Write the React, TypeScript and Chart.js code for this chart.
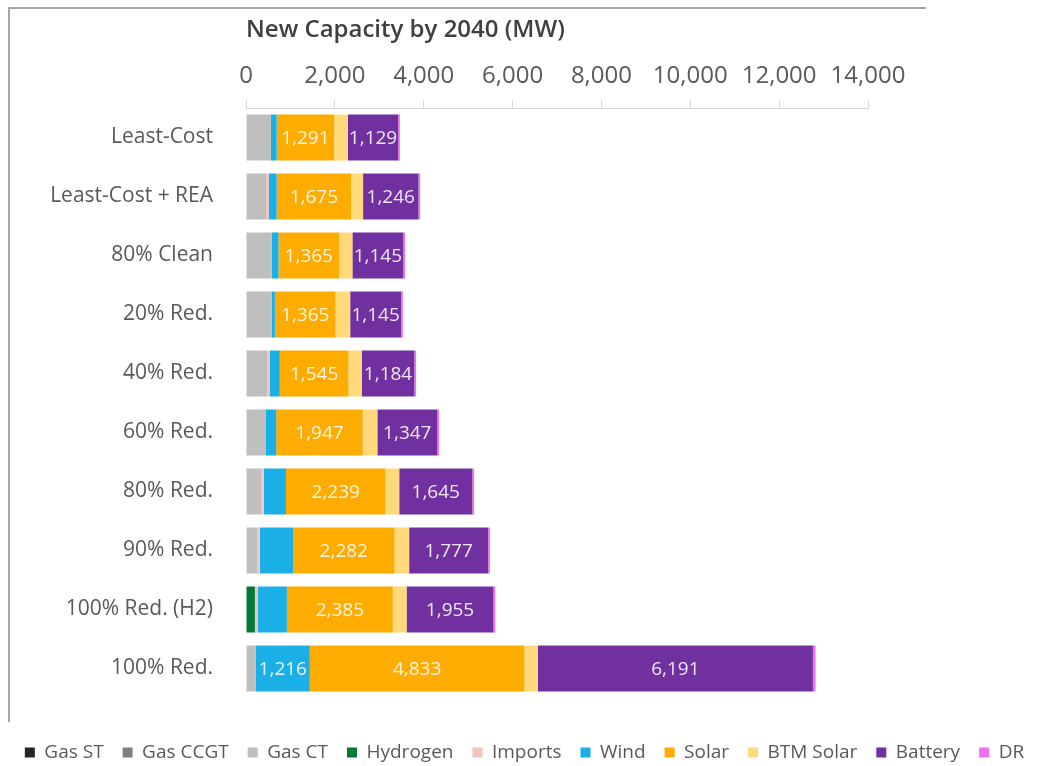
import React, { useEffect, useRef } from "react";
import { Chart, registerables } from "chart.js";

Chart.register(...registerables);

const categories = [
  "Least-Cost",
  "Least-Cost + REA",
  "80% Clean",
  "20% Red.",
  "40% Red.",
  "60% Red.",
  "80% Red.",
  "90% Red.",
  "100% Red. (H2)",
  "100% Red.",
];

const gasST = [0, 0, 0, 0, 0, 0, 0, 0, 0, 0];
const gasCCGT = [0, 0, 0, 0, 0, 0, 0, 0, 0, 0];
const gasCT = [560, 450, 580, 580, 480, 450, 340, 250, 0, 220];
const hydrogen = [0, 0, 0, 0, 0, 0, 0, 0, 200, 0];
const imports = [0, 60, 0, 0, 60, 0, 60, 60, 70, 0];
const wind = [130, 180, 150, 70, 220, 230, 500, 750, 650, 1216];
const solar = [1291, 1675, 1365, 1365, 1545, 1947, 2239, 2282, 2385, 4833];
const btmSolar = [314, 270, 300, 330, 300, 330, 310, 330, 310, 300];
const battery = [1129, 1246, 1145, 1145, 1184, 1347, 1645, 1777, 1955, 6191];
const dr = [40, 40, 40, 40, 40, 40, 40, 40, 40, 60];

const xTicks = [0, 2000, 4000, 6000, 8000, 10000, 12000, 14000];

const FONT = "'Open Sans', 'DejaVu Sans', sans-serif";

const labelPlugin = {
  id: "segLabels",
  afterLayout(chart: any) {
    const l = chart.legend;
    if (l) {
      l.top += 6;
      l.bottom += 6;
    }
  },
  afterDatasetsDraw(chart: any) {
    const ctx = chart.ctx;
    ctx.save();
    ctx.font = `19px ${FONT}`;
    ctx.fillStyle = "rgba(255,255,255,0.88)";
    ctx.textAlign = "center";
    ctx.textBaseline = "middle";
    chart.data.datasets.forEach((ds: any, di: number) => {
      if (!ds.showLabels) return;
      const meta = chart.getDatasetMeta(di);
      meta.data.forEach((bar: any, i: number) => {
        const v = ds.data[i];
        if (!v || v < ds.labelMin) return;
        const cx = (bar.x + bar.base) / 2;
        ctx.fillText(v.toLocaleString("en-US"), cx, bar.y + 1);
      });
    });
    ctx.restore();
  },
};

export default function App() {
  const ref = useRef<HTMLCanvasElement | null>(null);

  useEffect(() => {
    if (!ref.current) return;
    const mk = (label: string, data: number[], color: string, extra: any = {}) => ({
      label,
      data,
      xAxisID: "x",
      yAxisID: "y",
      backgroundColor: color,
      borderWidth: 0,
      barPercentage: 0.78,
      categoryPercentage: 1,
      ...extra,
    });
    const chart = new Chart(ref.current, {
      type: "bar",
      data: {
        labels: categories,
        datasets: [
          mk("Gas ST", gasST, "#262626"),
          mk("Gas CCGT", gasCCGT, "#7F7F7F"),
          mk("Gas CT", gasCT, "#BFBFBF"),
          mk("Hydrogen", hydrogen, "#007A33"),
          mk("Imports", imports, "#F6C3BC"),
          mk("Wind", wind, "#1AAFE6", { showLabels: true, labelMin: 1000 }),
          mk("Solar", solar, "#FFAC00", { showLabels: true, labelMin: 0 }),
          mk("BTM Solar", btmSolar, "#FFD97A"),
          mk("Battery", battery, "#7030A0", { showLabels: true, labelMin: 0 }),
          mk("DR", dr, "#F06EF0"),
        ] as any,
      },
      options: {
        indexAxis: "y",
        animation: false,
        responsive: true,
        maintainAspectRatio: false,
        layout: { padding: 0 },
        scales: {
          y: {
            type: "category",
            stacked: true,
            afterFit: (s: any) => {
              s.width = 246;
            },
            grid: { display: false, drawTicks: false },
            border: { display: false },
            ticks: {
              color: "#595959",
              font: { family: FONT, size: 21 },
              padding: 33,
            },
          },
          x: {
            type: "linear",
            position: "top",
            stacked: true,
            min: 0,
            max: 14000,
            afterBuildTicks: (s: any) => {
              s.ticks = xTicks.map((v) => ({ value: v }));
            },
            afterFit: (s: any) => {
              s.height = 108;
            },
            grid: {
              display: true,
              drawOnChartArea: false,
              drawTicks: true,
              tickLength: 8,
              color: "#D9D9D9",
            },
            border: { display: true, color: "#D9D9D9" },
            ticks: {
              color: "#595959",
              font: { family: FONT, size: 24 },
              padding: 9,
              maxRotation: 0,
              autoSkip: false,
              callback: (v: any) => Number(v).toLocaleString("en-US"),
            },
            title: {
              display: true,
              text: "New Capacity by 2040 (MW)",
              align: "start",
              color: "#404040",
              font: { family: FONT, size: 24, weight: "600" },
              padding: { top: 16, bottom: 0 },
            },
          },
          xb: {
            type: "linear",
            position: "bottom",
            display: true,
            grid: { display: false, drawTicks: false },
            border: { display: false },
            ticks: { display: false },
            afterFit: (s: any) => {
              s.height = 20;
            },
          },
          yr: {
            type: "linear",
            position: "right",
            display: true,
            grid: { display: false, drawTicks: false },
            border: { display: false },
            ticks: { display: false },
            afterFit: (s: any) => {
              s.width = 181;
            },
          },
        },
        plugins: {
          legend: {
            position: "bottom",
            labels: {
              boxWidth: 10,
              boxHeight: 10,
              padding: 19,
              color: "#595959",
              font: { family: FONT, size: 19 },
            },
          },
          tooltip: { enabled: false },
        },
      } as any,
      plugins: [labelPlugin],
    });
    return () => chart.destroy();
  }, []);

  return (
    <div style={{ position: "absolute", left: 0, top: 0, width: 1049, height: 766, background: "#fff" }}>
      <div
        style={{
          position: "absolute",
          left: 8,
          top: 7,
          width: 918,
          height: 715,
          borderTop: "2px solid #A6A6A6",
          borderLeft: "2px solid #A6A6A6",
          boxSizing: "border-box",
        }}
      />
      <canvas ref={ref} style={{ position: "absolute", left: 0, top: 0, width: 1049, height: 766 }} />
    </div>
  );
}
